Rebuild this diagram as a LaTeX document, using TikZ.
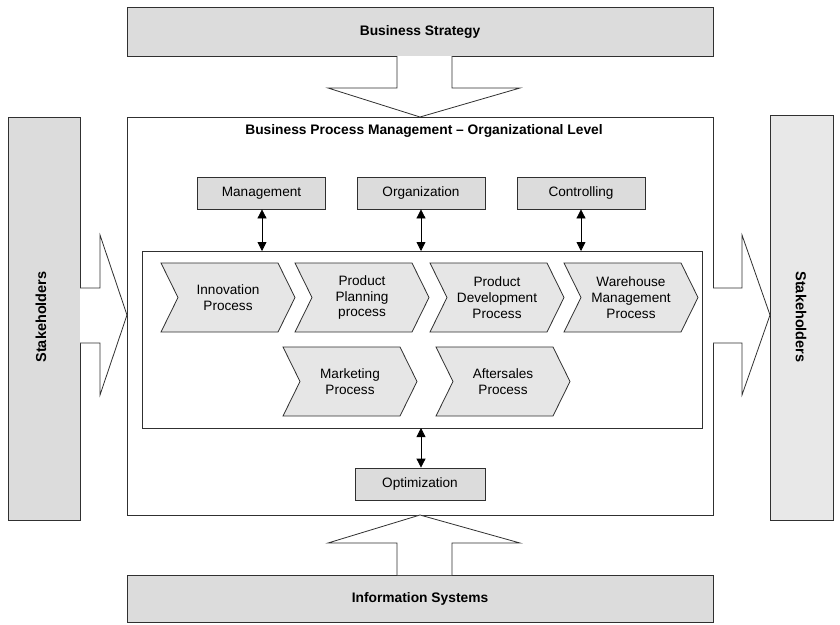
\documentclass[tikz,border=0pt]{standalone}
\usepackage{fontspec}
\setmainfont{Liberation Sans}
\usetikzlibrary{arrows.meta}
\definecolor{boxgray}{HTML}{DCDCDC}
\definecolor{lightgray2}{HTML}{E8E8E8}
\definecolor{chevgray}{HTML}{E6E6E6}
\definecolor{linegray}{HTML}{303030}
\tikzset{
  bigbox/.style={draw=linegray, fill=boxgray, line width=0.8pt},
  smallbox/.style={draw=linegray, fill=boxgray, line width=0.8pt, minimum width=128pt, minimum height=32pt, inner sep=0pt, font=\fontsize{13.6}{15.7}\selectfont},
  plain/.style={draw=linegray, line width=0.8pt},
  chevtext/.style={align=center, font=\fontsize{13.6}{15.7}\selectfont, inner sep=0pt},
  boldtext/.style={font=\bfseries\fontsize{13.8}{16}\selectfont, inner sep=0pt},
  dbl/.style={{Triangle[width=9pt,length=9pt]}-{Triangle[width=9pt,length=9pt]}, line width=0.8pt},
}
\newcommand\chevshape[3]{% left x, top y, height
  \filldraw[draw=linegray, fill=chevgray, line width=0.8pt]
    (#1,#2) -- (#1+117,#2) -- (#1+134,#2+#3/2) -- (#1+117,#2+#3) -- (#1,#2+#3) -- (#1+17,#2+#3/2) -- cycle;}
\begin{document}
\begin{tikzpicture}[x=1pt,y=-1pt]
\useasboundingbox (0,0) rectangle (840,624);
% top box
\draw[bigbox] (127,7) rectangle (713,56);
\node[boldtext] (bs) at (420,32) {Business Strategy};
% bottom box
\draw[bigbox] (127,575) rectangle (713,622);
\node[boldtext] (is) at (420,599) {Information Systems};
% main box
\draw[plain, fill=white] (127,117) rectangle (713,515);
\node[boldtext] (title) at (424,131) {Business Process Management -- Organizational Level};
% stakeholders
\draw[bigbox] (8,117) rectangle (80,520);
\node[boldtext, font=\bfseries\fontsize{14.5}{16}\selectfont, rotate=90] (shl) at (41,317) {Stakeholders};
\draw[bigbox, fill=lightgray2] (770,115) rectangle (833,520);
\node[boldtext, font=\bfseries\fontsize{14.5}{16}\selectfont, rotate=-90] (shr) at (801,317) {Stakeholders};
% block arrows
\draw[plain, fill=white] (397,56) -- (397,88) -- (328,88) -- (420,117) -- (520,88) -- (452,88) -- (452,56);
\draw[plain, fill=white] (397,575) -- (397,543) -- (328,543) -- (420,515) -- (520,543) -- (452,543) -- (452,575);
\draw[plain, fill=white] (80,288) -- (100,288) -- (100,235) -- (127,315) -- (100,395) -- (100,343) -- (80,343);
\draw[plain, fill=white] (713,288) -- (742,288) -- (742,235) -- (770,315) -- (742,395) -- (742,343) -- (713,343);
% small boxes
\node[smallbox] (mgmt) at (261.5,193) {Management};
\node[smallbox] (org) at (421,193) {Organization};
\node[smallbox] (ctrl) at (581,193) {Controlling};
\node[smallbox, minimum width=130pt] (opt) at (420,484) {Optimization};
% inner box
\draw[plain] (142,251) rectangle (702,428);
\coordinate (m1) at (262,251);
\coordinate (m2) at (421,251);
\coordinate (m3) at (581,251);
\coordinate (m4) at (421,428);
\draw[dbl] (mgmt.south -| m1) -- (m1);
\draw[dbl] (org.south -| m2) -- (m2);
\draw[dbl] (ctrl.south -| m3) -- (m3);
\draw[dbl] (m4) -- (opt.north -| m4);
% chevrons
\chevshape{161}{263}{69}
\chevshape{295}{263}{69}
\chevshape{430}{263}{69}
\chevshape{564}{263}{69}
\chevshape{283}{347}{69}
\chevshape{436}{347}{69}
\node[chevtext] (c1) at (228,297.5) {Innovation\\Process};
\node[chevtext] (c2) at (362,297.5) {Product\\Planning\\process};
\node[chevtext] (c3) at (497,297.5) {Product\\Development\\Process};
\node[chevtext] (c4) at (631,297.5) {Warehouse\\Management\\Process};
\node[chevtext] (c5) at (350,381.5) {Marketing\\Process};
\node[chevtext] (c6) at (503,381.5) {Aftersales\\Process};
\end{tikzpicture}
\end{document}
